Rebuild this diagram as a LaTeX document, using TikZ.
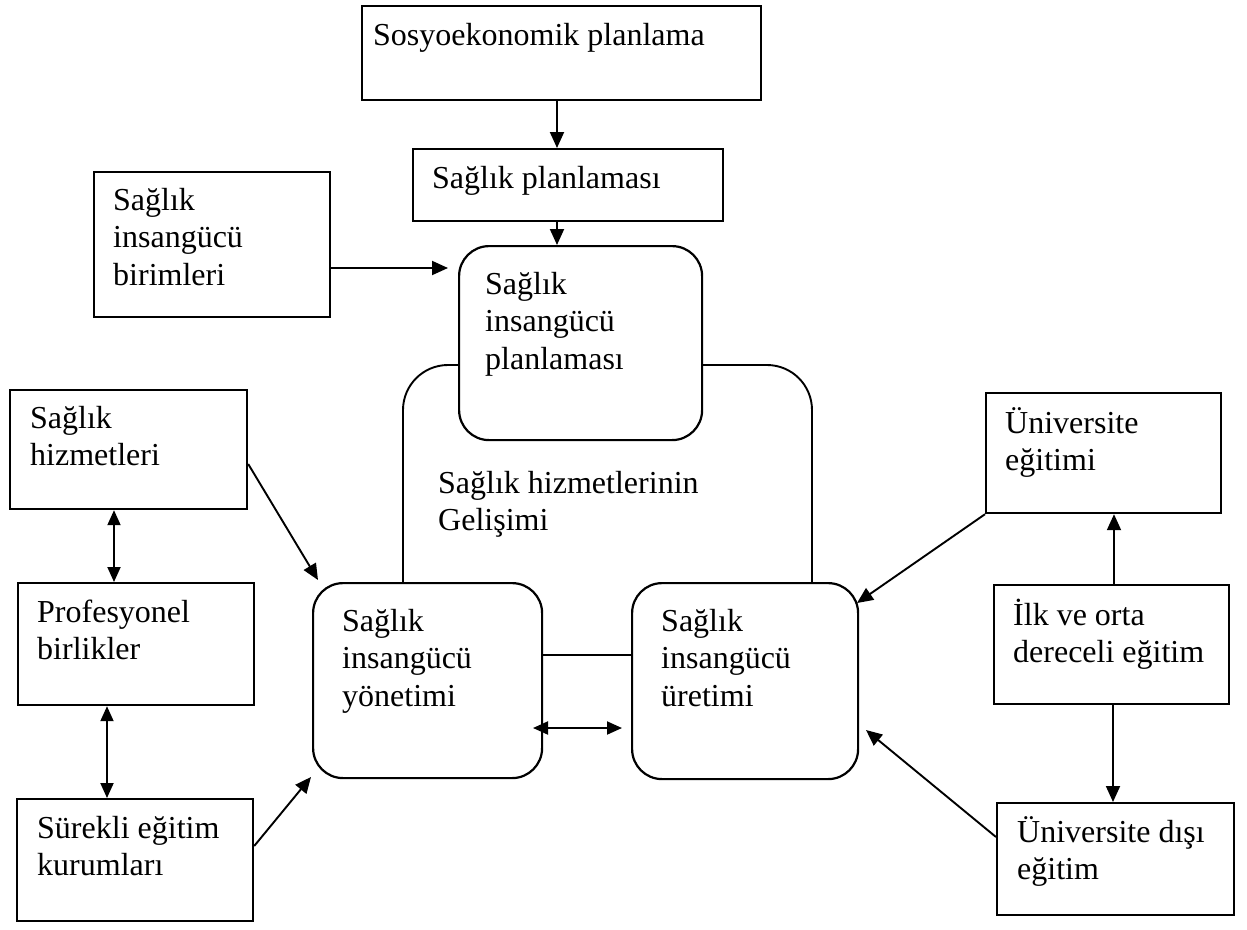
\documentclass[tikz,border=0pt]{standalone}
\usepackage{fontspec}
\setmainfont{Liberation Serif}
\usetikzlibrary{arrows.meta,calc}

\tikzset{
  box/.style={draw, line width=2.2pt, inner sep=0pt, anchor=north west},
  rbox/.style={box, rounded corners=30pt},
  txt/.style={inner sep=0pt, anchor=base west, font=\fontsize{32}{37.5}\selectfont},
  link/.style={line width=1.9pt},
  arr/.style={link, -{Triangle[length=16pt,width=14pt]}},
  darr/.style={link, {Triangle[length=15pt,width=13pt]}-{Triangle[length=15pt,width=13pt]}},
}
\newcommand{\lines}[1]{\parbox[t]{420pt}{\raggedright #1}}

\begin{document}
\begin{tikzpicture}[x=1pt,y=-1pt]
  \useasboundingbox (0,0) rectangle (1247,929);
  \fill[white] (0,0) rectangle (1247,929);

  % boxes
  \node[box, minimum width=399pt, minimum height=94pt]  (top)    at (361,5)   {};
  \node[box, minimum width=310pt, minimum height=72pt]  (splan)  at (412,148) {};
  \node[box, minimum width=236pt, minimum height=145pt] (birim)  at (93,171)  {};
  \node[rbox, minimum width=243pt, minimum height=194pt] (plan)  at (458,245) {};
  \node[box, minimum width=237pt, minimum height=119pt] (hizmet) at (9,389)   {};
  \node[box, minimum width=236pt, minimum height=122pt] (prof)   at (17,582)  {};
  \node[box, minimum width=236pt, minimum height=122pt] (surek)  at (16,798)  {};
  \node[rbox, minimum width=229pt, minimum height=195pt] (yon)   at (312,582) {};
  \node[rbox, minimum width=226pt, minimum height=196pt] (uret)  at (631,582) {};
  \node[box, minimum width=235pt, minimum height=120pt] (univ)   at (985,392) {};
  \node[box, minimum width=235pt, minimum height=119pt] (ilk)    at (993,584) {};
  \node[box, minimum width=237pt, minimum height=112pt] (disi)   at (996,802) {};

  % texts
  \node[txt] (ttop)    at (373,45)  {Sosyoekonomik planlama};
  \node[txt] (tsplan)  at (432,188) {Sağlık planlaması};
  \node[txt] (tbirim)  at (113,210) {\lines{Sağlık\\insangücü\\birimleri}};
  \node[txt] (tplan)   at (485,294) {\lines{Sağlık\\insangücü\\planlaması}};
  \node[txt] (tcenter) at (438,493) {\lines{Sağlık hizmetlerinin\\Gelişimi}};
  \node[txt] (thizmet) at (30,428)  {\lines{Sağlık\\hizmetleri}};
  \node[txt] (tprof)   at (37,622)  {\lines{Profesyonel\\birlikler}};
  \node[txt] (tsurek)  at (37,838)  {\lines{Sürekli eğitim\\kurumları}};
  \node[txt] (tyon)    at (342,631) {\lines{Sağlık\\insangücü\\yönetimi}};
  \node[txt] (turet)   at (661,631) {\lines{Sağlık\\insangücü\\üretimi}};
  \node[txt] (tuniv)   at (1005,433) {\lines{Üniversite\\eğitimi}};
  \node[txt] (tilk)    at (1013,625) {\lines{İlk ve orta\\dereceli eğitim}};
  \node[txt] (tdisi)   at (1017,842) {\lines{Üniversite dışı\\eğitim}};

  % guide coordinates for connector positions
  \coordinate (ax)   at (557,0);
  \coordinate (by)   at (0,268);
  \coordinate (loopy) at (0,365);
  \coordinate (lx)   at (403,0);
  \coordinate (rx)   at (812,0);
  \coordinate (hy)   at (0,464);
  \coordinate (yonin) at (318,580);
  \coordinate (yonout) at (311,777);
  \coordinate (sy)   at (0,846);
  \coordinate (midy) at (0,655);
  \coordinate (dl)   at (533,728);
  \coordinate (dr)   at (622,728);
  \coordinate (uretin) at (857,603);
  \coordinate (uretlow) at (866,730);
  \coordinate (dy)   at (0,837);
  \coordinate (ux)   at (1114,0);

  % top chain
  \draw[arr] (top.south -| ax) -- (splan.north -| ax);
  \draw[arr] (splan.south -| ax) -- (plan.north -| ax);
  \draw[arr, shorten >=10pt] (birim.east |- by) -- (plan.west |- by);

  % development loop
  \draw[link, rounded corners=45pt] (plan.west |- loopy) -- (lx |- loopy) -- (lx |- yon.north);
  \draw[link, rounded corners=45pt] (plan.east |- loopy) -- (rx |- loopy) -- (rx |- uret.north);

  % left side
  \draw[arr] (hizmet.east |- hy) -- (yonin);
  \draw[darr] (hizmet.south -| 114,0) -- (prof.north -| 114,0);
  \draw[darr] (prof.south -| 107,0) -- (surek.north -| 107,0);
  \draw[arr] (surek.east |- sy) -- (yonout);

  % between management and production
  \draw[link] (yon.east |- midy) -- (uret.west |- midy);
  \draw[darr] (dl) -- (dr);

  % right side
  \draw[arr] (univ.south west) -- (uretin);
  \draw[arr] (ilk.north -| ux) -- (univ.south -| ux);
  \draw[arr] (ilk.south -| 1113,0) -- (disi.north -| 1113,0);
  \draw[arr] (disi.west |- dy) -- (uretlow);
\end{tikzpicture}
\end{document}
